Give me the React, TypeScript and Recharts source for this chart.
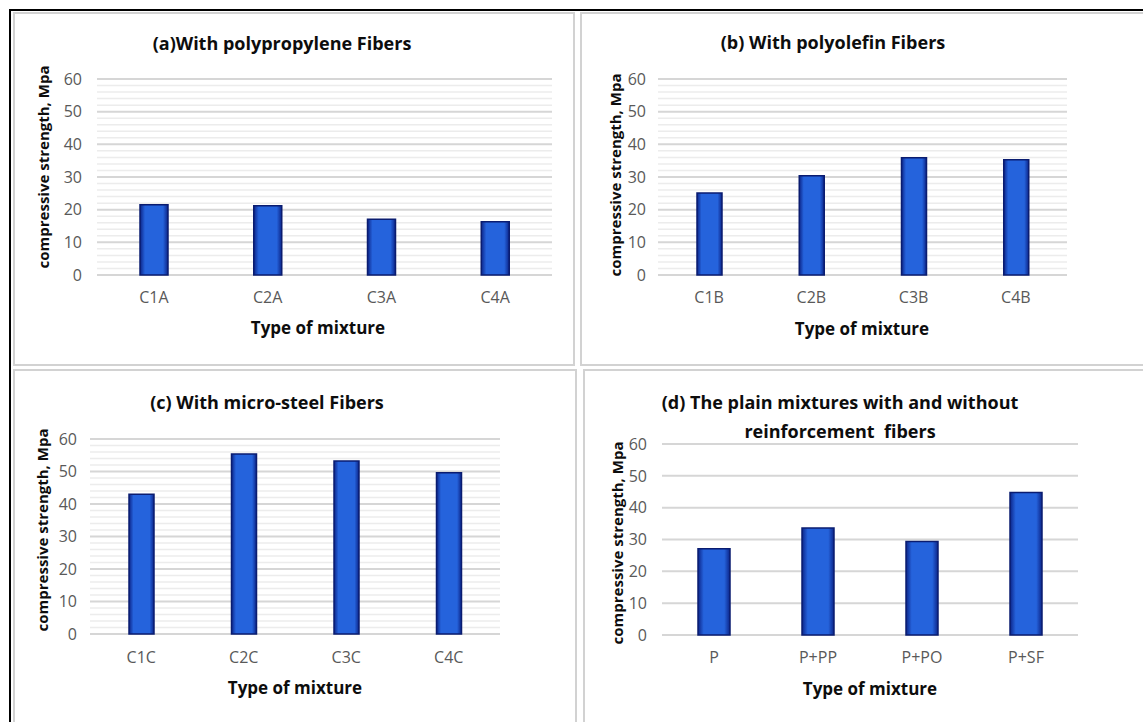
import React from 'react';
import { BarChart, Bar, XAxis, YAxis, CartesianGrid } from 'recharts';

const categoriesA = ['C1A', 'C2A', 'C3A', 'C4A'];
const valuesA = [21.5, 21.2, 17.1, 16.3];
const categoriesB = ['C1B', 'C2B', 'C3B', 'C4B'];
const valuesB = [25.1, 30.4, 35.9, 35.3];
const categoriesC = ['C1C', 'C2C', 'C3C', 'C4C'];
const valuesC = [43.0, 55.4, 53.2, 49.6];
const categoriesD = ['P', 'P+PP', 'P+PO', 'P+SF'];
const valuesD = [27.1, 33.6, 29.4, 44.8];
const yTicks = [0, 10, 20, 30, 40, 50, 60];
const minorTicks = [2, 4, 6, 8, 12, 14, 16, 18, 22, 24, 26, 28, 32, 34, 36, 38, 42, 44, 46, 48, 52, 54, 56, 58];

const yAxisTitle = 'compressive strength, Mpa';
const xAxisTitle = 'Type of mixture';

const FONT = "'Open Sans', 'Noto Sans', sans-serif";

type Panel = {
  key: string;
  title: string[];
  cats: string[];
  vals: number[];
  minor: boolean;
  barSize: number;
  box: { left: number; top: number; width: number; height: number };
  chart: { left: number; top: number; width: number; height: number };
  plot: { left: number; right: number; top: number; bottom: number };
  tickGap: number;
  yLabel: { x: number; y: number };
  xTickY: number;
  xTitle: { x: number; y: number };
  titlePos: { x: number; y: number };
};

const panels: Panel[] = [
  {
    key: 'a', title: ['(a)With polypropylene Fibers'], cats: categoriesA, vals: valuesA, minor: true, barSize: 28,
    box: { left: 13, top: 12, width: 562, height: 354 },
    chart: { left: 11, top: 11, width: 563, height: 354 },
    plot: { left: 97, right: 552, top: 79, bottom: 275 },
    tickGap: 15, yLabel: { x: 43, y: 167 }, xTickY: 298, xTitle: { x: 318, y: 327 }, titlePos: { x: 282, y: 43 },
  },
  {
    key: 'b', title: ['(b) With polyolefin Fibers'], cats: categoriesB, vals: valuesB, minor: true, barSize: 25,
    box: { left: 580, top: 12, width: 570, height: 354 },
    chart: { left: 580, top: 11, width: 563, height: 354 },
    plot: { left: 658, right: 1067, top: 79, bottom: 275 },
    tickGap: 12, yLabel: { x: 615, y: 175 }, xTickY: 298, xTitle: { x: 862, y: 328 }, titlePos: { x: 833, y: 42 },
  },
  {
    key: 'c', title: ['(c) With micro-steel Fibers'], cats: categoriesC, vals: valuesC, minor: true, barSize: 25,
    box: { left: 13, top: 369, width: 564, height: 360 },
    chart: { left: 11, top: 368, width: 566, height: 354 },
    plot: { left: 90, right: 500, top: 439, bottom: 634 },
    tickGap: 13, yLabel: { x: 42, y: 530 }, xTickY: 658, xTitle: { x: 295, y: 687 }, titlePos: { x: 267, y: 402 },
  },
  {
    key: 'd', title: ['(d) The plain mixtures with and without', 'reinforcement\u00a0 fibers'], cats: categoriesD, vals: valuesD, minor: false, barSize: 32,
    box: { left: 583, top: 369, width: 570, height: 360 },
    chart: { left: 583, top: 368, width: 560, height: 354 },
    plot: { left: 662, right: 1078, top: 444, bottom: 635 },
    tickGap: 15, yLabel: { x: 617, y: 543 }, xTickY: 658, xTitle: { x: 870, y: 688 }, titlePos: { x: 840, y: 402 },
  },
];

const Y_AXIS_W = 50;
const X_AXIS_H = 60;

function PanelChart({ p }: { p: Panel }) {
  const data = p.cats.map((name, i) => ({ name, value: p.vals[i] }));
  const cl = p.chart.left;
  const ct = p.chart.top;
  const plotL = p.plot.left - cl;
  const plotR = p.plot.right - cl;
  const plotT = p.plot.top - ct;
  const plotB = p.plot.bottom - ct;
  const margin = {
    top: plotT,
    right: p.chart.width - plotR,
    bottom: p.chart.height - plotB - X_AXIS_H,
    left: plotL - Y_AXIS_W,
  };
  const ylx = p.yLabel.x - cl;
  const yly = p.yLabel.y - ct;
  const xtx = p.xTitle.x - cl;
  const xty = p.xTitle.y - ct;
  const gradId = `barGrad-${p.key}`;
  return (
    <div style={{ position: 'absolute', left: p.chart.left, top: p.chart.top, width: p.chart.width, height: p.chart.height }}>
      <BarChart width={p.chart.width} height={p.chart.height} data={data} margin={margin}>
        <defs>
          <linearGradient id={gradId} x1="0" y1="0" x2="1" y2="0">
            <stop offset="0" stopColor="#0c2488" />
            <stop offset="0.18" stopColor="#2563dc" />
            <stop offset="0.82" stopColor="#2563dc" />
            <stop offset="1" stopColor="#0c2488" />
          </linearGradient>
        </defs>
        {p.minor && (
          <CartesianGrid vertical={false} horizontalValues={minorTicks} stroke="#ececec" strokeWidth={1.5} />
        )}
        <CartesianGrid vertical={false} horizontalValues={yTicks} stroke="#d6d6d6" strokeWidth={2} />
        <XAxis
          dataKey="name"
          type="category"
          height={X_AXIS_H}
          axisLine={false}
          tickLine={false}
          tickSize={0}
          tickMargin={p.xTickY - p.plot.bottom - 6}
          tick={{ fill: '#595959', fontSize: 16, fontFamily: FONT }}
          interval={0}
          label={() => (
            <text x={xtx} y={xty} textAnchor="middle" dominantBaseline="central" fontFamily={FONT} fontWeight={700} fontSize={17} fill="#0d0d0d">
              {xAxisTitle}
            </text>
          )}
        />
        <YAxis
          type="number"
          domain={[0, 60]}
          ticks={yTicks}
          interval={0}
          width={Y_AXIS_W}
          axisLine={false}
          tickLine={false}
          tickSize={0}
          tickMargin={p.tickGap}
          tick={{ fill: '#595959', fontSize: 16, fontFamily: FONT }}
          label={() => (
            <text
              x={ylx}
              y={yly}
              transform={`rotate(-90 ${ylx} ${yly})`}
              textAnchor="middle"
              dominantBaseline="central"
              fontFamily={FONT}
              fontWeight={700}
              fontSize={15}
              fill="#0d0d0d"
            >
              {yAxisTitle}
            </text>
          )}
        />
        <Bar dataKey="value" barSize={p.barSize} fill={`url(#${gradId})`} stroke="#0a1c70" strokeWidth={1.5} isAnimationActive={false} />
      </BarChart>
    </div>
  );
}

export default function App() {
  return (
    <div style={{ position: 'absolute', left: 0, top: 0, width: 1143, height: 722, background: '#fff', overflow: 'hidden' }}>
      {panels.map((p) => (
        <div
          key={`box-${p.key}`}
          style={{
            position: 'absolute', left: p.box.left, top: p.box.top, width: p.box.width, height: p.box.height,
            border: '2px solid #d2d2d2', boxSizing: 'border-box',
          }}
        />
      ))}
      <div style={{ position: 'absolute', left: 9, top: 9, width: 1134, height: 2, background: '#000' }} />
      <div style={{ position: 'absolute', left: 9, top: 9, width: 2, height: 713, background: '#000' }} />
      {panels.map((p) => (
        <PanelChart key={p.key} p={p} />
      ))}
      {panels.map((p) => (
        <div
          key={`title-${p.key}`}
          style={{
            position: 'absolute', left: p.titlePos.x - 260, top: p.titlePos.y - 14.5, width: 520,
            textAlign: 'center', fontFamily: FONT, fontWeight: 700, fontSize: 18, lineHeight: '29px', color: '#0d0d0d',
            whiteSpace: 'pre',
          }}
        >
          {p.title.map((t, i) => (
            <div key={i}>{t}</div>
          ))}
        </div>
      ))}
    </div>
  );
}
